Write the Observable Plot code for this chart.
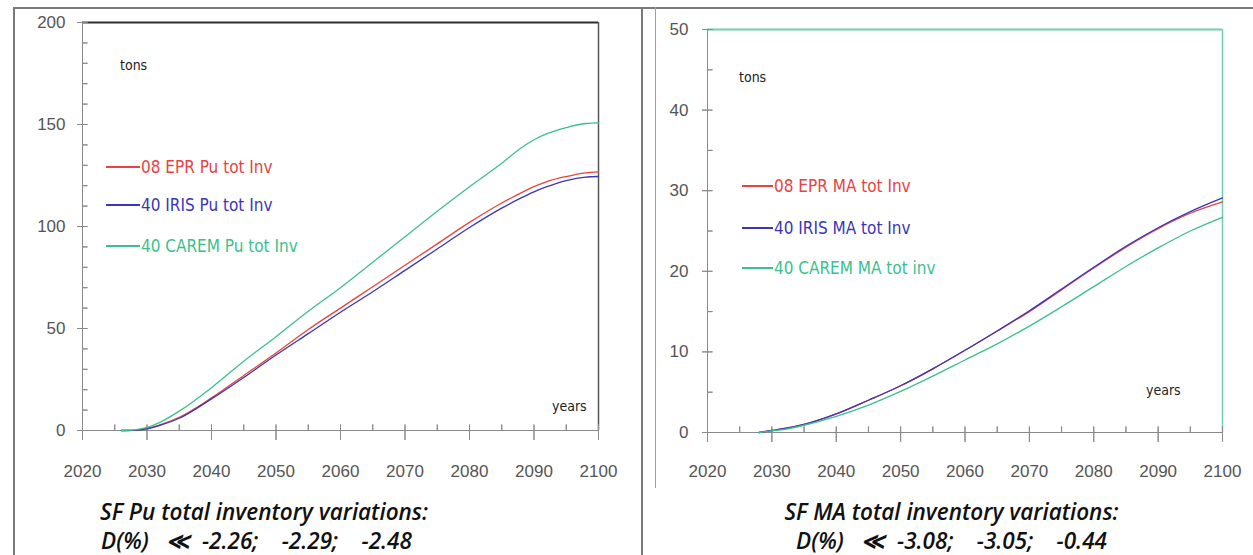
<!DOCTYPE html>
<html>
<head>
<meta charset="utf-8">
<script src="https://cdn.jsdelivr.net/npm/d3@7"></script>
<script src="https://cdn.jsdelivr.net/npm/@observablehq/plot@0.6"></script>
<style>
  html, body { margin: 0; padding: 0; background: #fff; }
  body { width: 1253px; height: 555px; position: relative; overflow: hidden; }
  .abs { position: absolute; }
  .panel svg { background: transparent !important; }
  .hl { position: absolute; height: 2px; background: #7a7a7a; }
  .vl { position: absolute; width: 2px; background: #7a7a7a; }
  .leg { position: absolute; display: flex; align-items: center; white-space: nowrap;
         font-family: "DejaVu Sans Condensed", "DejaVu Sans", sans-serif; font-stretch: condensed; font-size: 17px; }
  .leg .ln { display: inline-block; height: 1.5px; margin-right: 1px; }
  .note { position: absolute; font-family: "DejaVu Sans Condensed", "DejaVu Sans", sans-serif; font-stretch: condensed;
          font-size: 14px; color: #222; line-height: 1; }
  .cap { position: absolute; font-family: "Open Sans", sans-serif; font-style: italic; font-weight: 600;
         font-size: 22.5px; color: #111; white-space: pre; line-height: 1; }
</style>
</head>
<body>
<div id="left" class="abs panel" style="left:0;top:0"></div>
<div id="right" class="abs panel" style="left:656px;top:0"></div>
<script>
// ---------- Data ----------
const seriesNames = ["EPR", "IRIS", "CAREM"];
const seriesColors = ["#e8433f", "#3b36b5", "#3cbf8e"];

// Pu total inventory (tons)
const yearsPu = [2026, 2028, 2030, 2032, 2035, 2040, 2045, 2050, 2055, 2060, 2065, 2070, 2075, 2080, 2085, 2088, 2090, 2092, 2095, 2098, 2100];
const puEPR   = [0, 0.1, 1.0, 2.8, 6.5, 16, 27, 38, 49.5, 60, 70.5, 81, 91.5, 102, 111.5, 116.5, 119.5, 122, 124.5, 126.3, 126.8];
const puIRIS  = [0, 0.1, 0.8, 2.5, 6.0, 15.5, 26, 37, 47.5, 58, 68, 78.5, 89, 99.5, 109, 114, 117, 119.5, 122.5, 124.2, 124.5];
const puCAREM = [0, 0.3, 1.5, 4.0, 9.5, 21, 34, 46, 58.5, 70, 82.5, 95, 107.5, 119.5, 131, 138.5, 142.5, 145.5, 148.5, 150.5, 150.8];

// MA total inventory (tons)
const yearsMA = [2028, 2030, 2032, 2035, 2040, 2045, 2050, 2055, 2060, 2065, 2070, 2075, 2080, 2085, 2090, 2095, 2100];
const maEPR   = [0, 0.25, 0.5, 1.0, 2.3, 4.0, 5.8, 7.9, 10.2, 12.6, 15.0, 17.7, 20.4, 23.0, 25.3, 27.2, 28.6];
const maIRIS  = [0, 0.25, 0.5, 1.0, 2.3, 4.0, 5.8, 7.9, 10.2, 12.6, 15.1, 17.8, 20.5, 23.1, 25.4, 27.4, 29.1];
const maCAREM = [0, 0.2, 0.4, 0.9, 2.0, 3.4, 5.1, 7.0, 9.0, 11.0, 13.2, 15.6, 18.1, 20.6, 22.9, 25.0, 26.7];

// Tick values
const xMajor = [2020, 2030, 2040, 2050, 2060, 2070, 2080, 2090, 2100];
const xMinor = [2025, 2035, 2045, 2055, 2065, 2075, 2085, 2095];
const yMajorPu = [0, 50, 100, 150, 200];
const yMinorPu = [10, 20, 30, 40, 60, 70, 80, 90, 110, 120, 130, 140, 160, 170, 180, 190];
const yMajorMA = [0, 10, 20, 30, 40, 50];
const yMinorMA = [5, 15, 25, 35, 45];

// Texts
const legendPu = ["08 EPR Pu tot Inv", "40 IRIS Pu tot Inv", "40 CAREM Pu tot Inv"];
const legendMA = ["08 EPR MA tot Inv", "40 IRIS MA tot Inv", "40 CAREM MA tot inv"];
const captionPu = ["SF Pu total inventory variations:", "D(%)   \u226A  -2.26;    -2.29;    -2.48"];
const captionMA = ["SF MA total inventory variations:", "D(%)   \u226A  -3.08;    -3.05;    -0.44"];

// ---------- Build tidy tables ----------
function tidy(years, arrays) {
  const out = [];
  arrays.forEach((arr, i) => arr.forEach((v, j) => out.push({year: years[j], value: v, series: seriesNames[i]})));
  return out;
}
const puData = tidy(yearsPu, [puEPR, puIRIS, puCAREM]);
const maData = tidy(yearsMA, [maEPR, maIRIS, maCAREM]);

const axisGray = "#8a8a8a";
const labelFont = "'Liberation Sans', sans-serif";

function panel({data, yMax, yMajor, yMinor, width, height, mL, mR, mT, mB, topColor, rightColor, yPad, xPad}) {
  const tick = {stroke: axisGray, shape: "spike", r: 0, strokeWidth: 1};
  return Plot.plot({
    width, height,
    marginLeft: mL, marginRight: mR, marginTop: mT, marginBottom: mB,
    style: {fontFamily: labelFont, fontSize: "17px", color: "#555", background: "transparent"},
    x: {domain: [2020, 2100]},
    y: {domain: [0, yMax]},
    color: {domain: seriesNames, range: seriesColors},
    marks: [
      Plot.ruleY([yMax], {stroke: topColor, strokeWidth: 2}),
      Plot.ruleX([2100], {stroke: rightColor, strokeWidth: 1.5}),
      Plot.ruleX([2020], {stroke: axisGray}),
      Plot.ruleY([0], {stroke: axisGray}),
      // y ticks: majors cross the axis, minors point inward
      Plot.vector(yMajor, {x: () => 2020, y: d => d, rotate: 90, length: 10, anchor: "middle", ...tick}),
      Plot.vector(yMinor, {x: () => 2020, y: d => d, rotate: 90, length: 5, anchor: "start", ...tick}),
      // x ticks
      Plot.vector(xMajor, {x: d => d, y: () => 0, rotate: 0, length: 15, anchor: "start", dy: 9, ...tick}),
      Plot.vector(xMinor, {x: d => d, y: () => 0, rotate: 0, length: 6, anchor: "start", ...tick}),
      Plot.line(data, {x: "year", y: "value", stroke: "series", strokeWidth: 1.3, curve: "monotone-x"}),
      Plot.axisX({ticks: xMajor, tickSize: 0, tickPadding: xPad, tickFormat: d => String(d), label: null}),
      Plot.axisY({ticks: yMajor, tickSize: 0, tickPadding: yPad, tickFormat: d => String(d), label: null})
    ]
  });
}

document.getElementById("left").appendChild(panel({
  data: puData, yMax: 200, yMajor: yMajorPu, yMinor: yMinorPu,
  width: 640, height: 490, mL: 82, mR: 42, mT: 22, mB: 60,
  topColor: "#2e2e2e", rightColor: "#555", yPad: 17, xPad: 34
}));
document.getElementById("right").appendChild(panel({
  data: maData, yMax: 50, yMajor: yMajorMA, yMinor: yMinorMA,
  width: 590, height: 490, mL: 51, mR: 24, mT: 29, mB: 58,
  topColor: "#6fcfae", rightColor: "#6fcfae", yPad: 19, xPad: 32
}));

// ---------- Overlays: frame lines, legends, notes, captions ----------
const body = document.body;
function add(cls, style, text) {
  const d = document.createElement("div");
  d.className = cls; d.setAttribute("style", style);
  if (text != null) d.textContent = text;
  body.appendChild(d); return d;
}
add("hl", "left:14px;top:7px;width:1239px;");
add("vl", "left:13px;top:7px;height:548px;");
add("vl", "left:641px;top:7px;height:548px;");
add("vl", "left:655px;top:7px;height:481px;width:1px;background:#a0a0a0;");

function legend(labels, x, ys, lineW) {
  labels.forEach((t, i) => {
    const d = add("leg", `left:${x}px;top:${ys[i] - 10}px;height:20px;color:${seriesColors[i]};`);
    const ln = document.createElement("span");
    ln.className = "ln"; ln.style.width = lineW + "px"; ln.style.background = seriesColors[i];
    const tx = document.createElement("span"); tx.textContent = t;
    d.appendChild(ln); d.appendChild(tx);
  });
}
legend(legendPu, 106, [167, 205, 246], 34);
legend(legendMA, 742, [186, 228, 268], 31);

add("note", "left:120px;top:58px;", "tons");
add("note", "left:552px;top:399px;", "years");
add("note", "left:739px;top:70px;", "tons");
add("note", "left:1146px;top:383px;", "years");

add("cap", "left:100px;top:501px;", captionPu[0]);
add("cap", "left:101px;top:530px;", captionPu[1]);
add("cap", "left:765px;top:501px;width:373px;text-align:center;", captionMA[0]);
add("cap", "left:765px;top:530px;width:373px;text-align:center;", captionMA[1]);
</script>
</body>
</html>
